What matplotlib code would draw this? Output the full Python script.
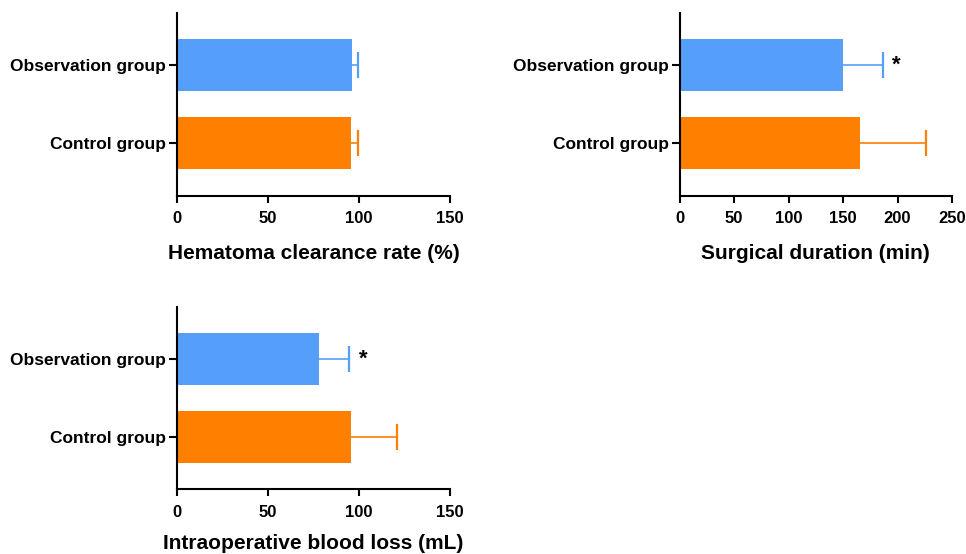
import matplotlib
matplotlib.use('Agg')
import matplotlib.pyplot as plt

plt.rcParams['font.family'] = ['Liberation Sans', 'DejaVu Sans']
plt.rcParams['font.weight'] = 'bold'

# Grupos (de abajo hacia arriba)
groups = ['Control group', 'Observation group']
colors = ['#FF7F00', '#559FFB']

# Tasa de aclaramiento del hematoma (%)
clearance_mean = [95.4, 96.0]
clearance_sd = [3.9, 3.6]

# Duracion quirurgica (min)
duration_mean = [165.9, 150.0]
duration_sd = [60.3, 36.4]

# Perdida de sangre intraoperatoria (mL)
blood_mean = [95.6, 78.2]
blood_sd = [25.3, 16.5]

panels = [
    (clearance_mean, clearance_sd, 'Hematoma clearance rate (%)', 150, [0, 50, 100, 150], False,
     [0.1832, 0.6468, 0.2826, 0.3298], 13),
    (duration_mean, duration_sd, 'Surgical duration (min)', 250, [0, 50, 100, 150, 200, 250], True,
     [0.7036, 0.6468, 0.2819, 0.3298], 13),
    (blood_mean, blood_sd, 'Intraoperative blood loss (mL)', 150, [0, 50, 100, 150], True,
     [0.1832, 0.1168, 0.2826, 0.3296], 10.5),
]

fig = plt.figure(figsize=(9.66, 5.54), dpi=100)

for means, sds, xlabel, xmax, xticks, star, rect, lpad in panels:
    ax = fig.add_axes(rect)
    ypos = list(range(len(groups)))
    ax.barh(ypos, means, height=0.667, color=colors, zorder=2)
    for y, m, s, c in zip(ypos, means, sds, colors):
        # solo la barra de error positiva, sin tapa en la media
        _, caps, _ = ax.errorbar(m, y, xerr=[[0], [s]], fmt='none', ecolor=c,
                                 elinewidth=1.2, capsize=9.4, capthick=1.6, zorder=1)
        caps[0].set_visible(False)
    if star:
        x_star = means[1] + sds[1] + xmax * 0.05
        ax.text(x_star, 1, '*', ha='center', va='center', fontsize=16,
                fontweight='bold', color='black')
    ax.set_xlim(0, xmax)
    ax.set_ylim(-0.67, 1.67)
    ax.set_xticks(xticks)
    ax.set_yticks(ypos)
    ax.set_yticklabels(groups, fontsize=12.5, fontweight='bold')
    ax.tick_params(axis='x', labelsize=12, length=5, width=1.5, pad=6)
    ax.tick_params(axis='y', length=5.5, width=1.5, pad=2.5)
    for lab in ax.get_xticklabels():
        lab.set_fontweight('bold')
    ax.set_xlabel(xlabel, fontsize=15, fontweight='bold', labelpad=lpad)
    for side in ['top', 'right']:
        ax.spines[side].set_visible(False)
    for side in ['left', 'bottom']:
        ax.spines[side].set_linewidth(1.5)

fig.savefig('out.png', dpi=100)
